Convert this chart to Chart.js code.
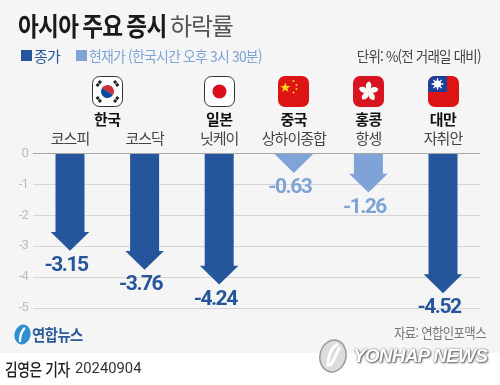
<!DOCTYPE html>
<html lang="ko"><head><meta charset="utf-8">
<script src="https://cdn.jsdelivr.net/npm/chart.js@4/dist/chart.umd.min.js"></script>
<style>
html,body{margin:0;padding:0;background:#fff;width:500px;height:385px;overflow:hidden}
body{font-family:"Noto Sans CJK KR","Noto Sans",sans-serif;position:relative}
#panel{position:absolute;left:0;top:0;width:500px;height:353px;background:#f5f5f6}
canvas{position:absolute;left:0;top:0}
.t{position:absolute;white-space:nowrap;line-height:1}
.f{position:absolute;width:31px;height:31px;top:76px}
.sq{position:absolute;width:11px;height:11px;top:50px}
.l{transform-origin:left center}.r{transform-origin:right center}
</style></head><body>
<div id="panel"></div>
<canvas id="c" width="500" height="385"></canvas>
<div class="t l" style="left:18px;top:12px;font-size:26px;font-weight:700;letter-spacing:-.8px;word-spacing:-2px;color:#1a1a1a;transform:scaleX(.87)">아시아 주요 증시</div>
<div class="t l" style="left:170px;top:13px;font-size:24px;font-weight:400;letter-spacing:-1.2px;color:#555">하락률</div>
<div class="sq" style="left:21px;background:#25569b"></div>
<div class="t l" id="l1" style="left:34px;top:48px;font-size:15px;letter-spacing:-.8px;color:#25569b"></div>
<div class="sq" style="left:76px;background:#7fa3d6"></div>
<div class="t l" id="l2" style="left:89px;top:48px;font-size:15px;letter-spacing:-.9px;color:#7fa3d6;transform:scaleX(.93)"></div>
<div class="t r" style="right:19px;top:48px;font-size:15px;letter-spacing:-.9px;color:#444;transform:scaleX(.9)">단위: %(전 거래일 대비)</div>

<svg class="f" style="left:92px" viewBox="0 0 31 31"><rect x=".5" y=".5" width="30" height="30" rx="7" fill="#fff" stroke="#333"/>
<g transform="rotate(33.7 15.5 15.5)"><path d="M9 15.5a6.5 6.5 0 0 1 13 0z" fill="#cd2e3a"/><path d="M9 15.5a6.5 6.5 0 0 0 13 0z" fill="#0047a0"/><path d="M9 15.5a3.25 3.25 0 0 1 6.5 0a3.25 3.25 0 0 0 6.5 0a3.25 3.25 0 0 1-6.5 0z" fill="#cd2e3a"/></g>
<g stroke="#222" stroke-width="3" stroke-dasharray="3 .6"><path d="M4.800 10.200l4-5.400M22.200 4.800l4 5.400M4.800 20.800l4 5.400M22.200 26.200l4-5.400"/></g></svg>
<svg class="f" style="left:204px" viewBox="0 0 31 31"><rect x=".5" y=".5" width="30" height="30" rx="7" fill="#fff" stroke="#333"/><circle cx="15.5" cy="15.5" r="7" fill="#d80f1e"/></svg>
<svg class="f" style="left:278px" viewBox="0 0 31 31"><rect width="31" height="31" rx="7" fill="#dc1414"/><path d="M8 5.500l1.500 4.400h4.600l-3.700 2.700 1.400 4.400L8 14.300l-3.800 2.700 1.400-4.400-3.700-2.700h4.600z" fill="#f8d21c" transform="translate(.5 1.500) scale(.85)"/><g fill="#f8d21c"><circle cx="15.500" cy="5" r="1"/><circle cx="18.500" cy="9" r="1"/><circle cx="18.500" cy="13" r="1"/><circle cx="15.500" cy="16.500" r="1"/></g></svg>
<svg class="f" style="left:353px" viewBox="0 0 31 31"><rect width="31" height="31" rx="7" fill="#d81420"/><g fill="#fff"><g id="p"><path d="M15.500 15.500C11.500 12.500 12 7 16 5.500c3.500 1.800 3 7-.5 10z"/></g><use href="#p" transform="rotate(72 15.500 15.500)"/><use href="#p" transform="rotate(144 15.500 15.500)"/><use href="#p" transform="rotate(216 15.500 15.500)"/><use href="#p" transform="rotate(288 15.500 15.500)"/></g></svg>
<svg class="f" style="left:428px" viewBox="0 0 31 31"><rect width="31" height="31" rx="7" fill="#dc1414"/><path d="M7 0H19V16H0V7A7 7 0 0 1 7 0z" fill="#1d3f9c"/><g stroke="#fff" stroke-width="1.300"><path d="M9.500 2.200V13.800M3.700 8H15.300M5.400 3.900L13.600 12.100M13.600 3.900L5.400 12.100"/></g><circle cx="9.500" cy="8" r="3.600" fill="#fff"/></svg>

<svg style="position:absolute;left:13px;top:323px" width="19" height="23" viewBox="0 0 19 23"><ellipse cx="9.500" cy="11.500" rx="8" ry="10" fill="#2d8fd0" transform="rotate(12 9.500 11.500)"/><path d="M12 5C8 8 7 13 7 19" stroke="#fff" stroke-width="2.400" fill="none"/></svg>
<div class="t l" style="left:32px;top:326px;font-size:16px;font-weight:700;letter-spacing:-.6px;color:#2a5a9a;transform:scaleX(.9)">연합뉴스</div>
<div class="t r" style="right:14px;top:326px;font-size:13.500px;letter-spacing:-.7px;color:#777;transform:scaleX(.92)">자료: 연합인포맥스</div>
<div class="t l" style="left:5px;top:360px;font-size:17px;font-weight:500;letter-spacing:-.5px;color:#222;transform:scaleX(.81)">김영은 기자</div>
<div class="t l" style="left:75px;top:362px;font-family:Roboto,sans-serif;font-size:14.500px;color:#333;transform:scaleX(1.02)">20240904</div>

<svg style="position:absolute;left:316px;top:337px" width="34" height="38" viewBox="0 0 34 38"><ellipse cx="17" cy="19" rx="13" ry="16" fill="#dcdcdc" stroke="#999" stroke-width="1.500" transform="rotate(12 17 19)"/><path d="M22 7C14 11 12 20 12 30M24 10C20 16 19 22 14 29" stroke="#fff" stroke-width="3" fill="none"/></svg>
<div class="t l" style="left:353px;top:346px;font-family:'Liberation Sans',sans-serif;font-size:19px;font-weight:700;font-style:italic;letter-spacing:-.8px;color:#fff;text-shadow:0 0 2px #666,1px 1px 2px #555">YONHAP NEWS</div>

<script>
const categories = ['코스피','코스닥','닛케이','상하이종합','항셍','자취안'];
const closeValues = [-3.15,-3.76,-4.24,null,null,-4.52];
const currentValues = [null,null,null,-0.63,-1.26,null];
const yTicks = [0,-1,-2,-3,-4,-5];
const closeName = '종가';
const currentName = '현재가 (한국시간 오후 3시 30분)';
const countries = [['한국',0,1],['일본',2,2],['중국',3,3],['홍콩',4,4],['대만',5,5]];
const CLOSE='#25569b', CURRENT='#7fa3d6';
const FONT='"Noto Sans CJK KR","Noto Sans",sans-serif';
document.getElementById('l1').textContent=closeName;
document.getElementById('l2').textContent=currentName;

// Bars are rendered as block arrows whose tip sits on the value.
Chart.BarElement.prototype.draw=function(ctx){
  const {x,y,base}=this, c=this.options.backgroundColor;
  if(y==null||isNaN(y))return;
  const sw=14.5,hw=19.3,hh=Math.min(18.8,y-base), neck=y-hh;
  ctx.save();ctx.fillStyle=c;ctx.beginPath();
  if(neck>base+.5){ctx.moveTo(x-sw,base);ctx.lineTo(x+sw,base);ctx.lineTo(x+sw,neck);ctx.lineTo(x+hw,neck);ctx.lineTo(x,y);ctx.lineTo(x-hw,neck);ctx.lineTo(x-sw,neck);}
  else{ctx.moveTo(x-hw,base);ctx.lineTo(x+hw,base);ctx.lineTo(x,y);}
  ctx.closePath();ctx.fill();ctx.restore();
};

const annot={id:'annot',
 beforeDraw(ch){ch.ctx.letterSpacing='-1px'},
 afterDatasetsDraw(ch){
  const ctx=ch.ctx,xs=ch.scales.x;
  ctx.save();ctx.textAlign='center';ctx.textBaseline='middle';
  ctx.font='700 15px '+FONT;ctx.fillStyle='#111';ctx.letterSpacing='-.6px';
  countries.forEach(([n,a,b])=>ctx.fillText(n,(xs.getPixelForValue(a)+xs.getPixelForValue(b))/2,119));
  ctx.font='700 21px Roboto,'+FONT;ctx.letterSpacing='-1.5px';
  ch.data.datasets.forEach((d,i)=>{
    ctx.fillStyle=d.backgroundColor;
    ch.getDatasetMeta(i).data.forEach((el,j)=>{
      const v=d.data[j]; if(v==null)return;
      ctx.fillText(v.toFixed(2),el.x-4,el.y+15);
    });
  });
  ctx.restore();
}};

new Chart(document.getElementById('c'),{
  type:'bar',
  data:{labels:categories,datasets:[
    {label:closeName,data:closeValues,backgroundColor:CLOSE},
    {label:currentName,data:currentValues,backgroundColor:CURRENT}
  ]},
  options:{
    responsive:false,animation:false,
    layout:{padding:{left:0,right:19.7,top:0,bottom:77}},
    plugins:{legend:{display:false},title:{display:false},tooltip:{enabled:false}},
    scales:{
      x:{position:'top',stacked:true,
        grid:{display:false,drawTicks:false},border:{display:false},
        ticks:{color:'#444',padding:6,maxRotation:0,autoSkip:false,font:{family:FONT,size:15}},
        afterFit(s){s.height=153.5}},
      y:{min:-5,max:0,stacked:true,
        afterBuildTicks(s){s.ticks=yTicks.map(v=>({value:v}))},
        grid:{color:c=>c.tick.value===0?'#a8a8a8':'#d4d4d6',drawTicks:false,lineWidth:1},
        border:{display:false},
        ticks:{color:'#bdbdbd',padding:5,font:{family:'Roboto,sans-serif',size:13},callback:v=>String(v)},
        afterFit(s){s.width=32.7}}
    }
  },
  plugins:[annot]
});
</script>
</body></html>
